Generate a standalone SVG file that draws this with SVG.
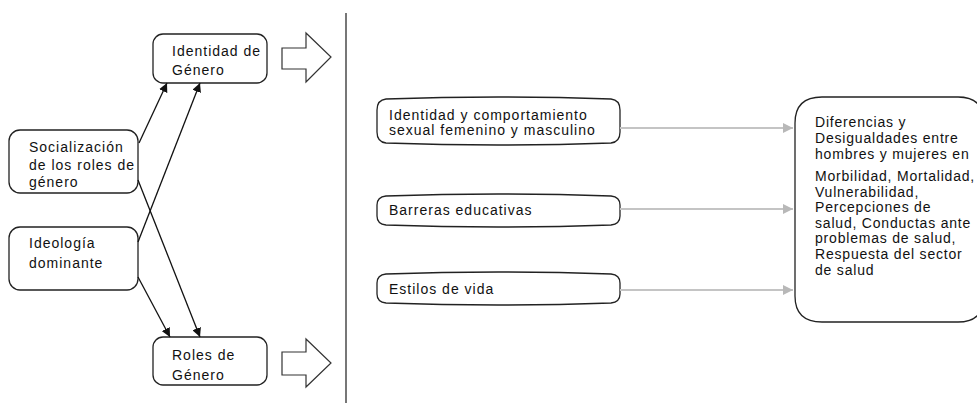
<svg xmlns="http://www.w3.org/2000/svg" width="977" height="403" viewBox="0 0 977 403">
<defs>
<style>
.box{fill:#fff;stroke:#222;stroke-width:1.3}
.t{font-family:"Liberation Sans",Arial,sans-serif;font-size:14px;letter-spacing:1px;fill:#111}
.tr{letter-spacing:0.8px}
.blk{stroke:#111;stroke-width:1.3;fill:none}
.gry{stroke:#c4c4c4;stroke-width:2;fill:none}
.barrow{fill:#fff;stroke:#333;stroke-width:1.2}
</style>
<marker id="ah" viewBox="0 0 10 10" refX="10" refY="5" markerWidth="9" markerHeight="9" markerUnits="userSpaceOnUse" orient="auto">
<path d="M0,0 L10,5 L0,10 Z" fill="#111"/>
</marker>
<marker id="ag" viewBox="0 0 10 10" refX="10" refY="5" markerWidth="11" markerHeight="10" markerUnits="userSpaceOnUse" orient="auto">
<path d="M0,0 L10,5 L0,10 Z" fill="#b8b8b8"/>
</marker>
</defs>
<rect width="977" height="403" fill="#fff"/>
<line x1="346" y1="13" x2="346" y2="403" stroke="#555" stroke-width="1.6"/>

<g id="identidad-genero">
<rect class="box" x="153" y="34" width="114" height="49" rx="10"/>
<text class="t" x="172" y="56">Identidad de</text>
<text class="t" x="172" y="75">Género</text>
</g>
<g id="socializacion">
<rect class="box" x="9" y="130" width="129" height="63" rx="11"/>
<text class="t" x="29" y="152">Socialización</text>
<text class="t" x="29" y="170">de los roles de</text>
<text class="t" x="29" y="187">género</text>
</g>
<g id="ideologia">
<rect class="box" x="9" y="227" width="129" height="63" rx="11"/>
<text class="t" x="29" y="248">Ideología</text>
<text class="t" x="29" y="268">dominante</text>
</g>
<g id="roles-genero">
<rect class="box" x="153" y="337" width="114" height="48" rx="10"/>
<text class="t" x="172" y="360">Roles de</text>
<text class="t" x="172" y="380">Género</text>
</g>
<g id="flecha-identidad">
<path class="barrow" d="M282,48 L306,48 L306,33 L331,57 L306,82 L306,69 L282,69 Z"/>
</g>
<g id="flecha-roles">
<path class="barrow" d="M282,352 L306,352 L306,339 L331,363 L306,387 L306,375 L282,375 Z"/>
</g>

<g id="identidad-comportamiento">
<path class="box" d="M386,99 Q498,95 611,99 Q620,100 620,110 L620,132 Q620,142 611,143 Q498,147 386,143 Q377,142 377,132 L377,110 Q377,100 386,99 Z"/>
<text class="t" x="389" y="120">Identidad y comportamiento</text>
<text class="t" x="389" y="135">sexual femenino y masculino</text>
</g>
<g id="barreras">
<path class="box" d="M386,196 Q498,192 611,196 Q620,197 620,205 L620,216 Q620,224 611,225 Q498,229 386,225 Q377,224 377,216 L377,205 Q377,197 386,196 Z"/>
<text class="t" x="389" y="215">Barreras educativas</text>
</g>
<g id="estilos">
<path class="box" d="M386,274 Q498,270 611,274 Q620,275 620,283 L620,294 Q620,302 611,303 Q498,307 386,303 Q377,302 377,294 L377,283 Q377,275 386,274 Z"/>
<text class="t" x="389" y="294">Estilos de vida</text>
</g>
<g id="diferencias">
<path class="box" d="M822,97 L958,97 Q984,97 984,123 L984,296 Q984,322 958,322 L822,322 Q795,322 795,296 L795,123 Q795,97 822,97 Z"/>
<text class="t tr" x="815" y="127">Diferencias y</text>
<text class="t tr" x="815" y="143">Desigualdades entre</text>
<text class="t tr" x="815" y="159">hombres y mujeres en</text>
<text class="t tr" x="815" y="181">Morbilidad, Mortalidad,</text>
<text class="t tr" x="815" y="197">Vulnerabilidad,</text>
<text class="t tr" x="815" y="212">Percepciones de</text>
<text class="t tr" x="815" y="228">salud, Conductas ante</text>
<text class="t tr" x="815" y="243">problemas de salud,</text>
<text class="t tr" x="815" y="259">Respuesta del sector</text>
<text class="t tr" x="815" y="275">de salud</text>
</g>

<g id="connectors">
<line class="blk" x1="139" y1="143" x2="167" y2="83" marker-end="url(#ah)"/>
<line class="blk" x1="138" y1="242" x2="200" y2="83" marker-end="url(#ah)"/>
<line class="blk" x1="138" y1="180" x2="200" y2="337" marker-end="url(#ah)"/>
<line class="blk" x1="138" y1="277" x2="170" y2="337" marker-end="url(#ah)"/>
<line class="gry" x1="620" y1="128" x2="793" y2="128" marker-end="url(#ag)"/>
<line class="gry" x1="620" y1="209" x2="793" y2="209" marker-end="url(#ag)"/>
<line class="gry" x1="620" y1="290" x2="793" y2="290" marker-end="url(#ag)"/>
</g>
</svg>
